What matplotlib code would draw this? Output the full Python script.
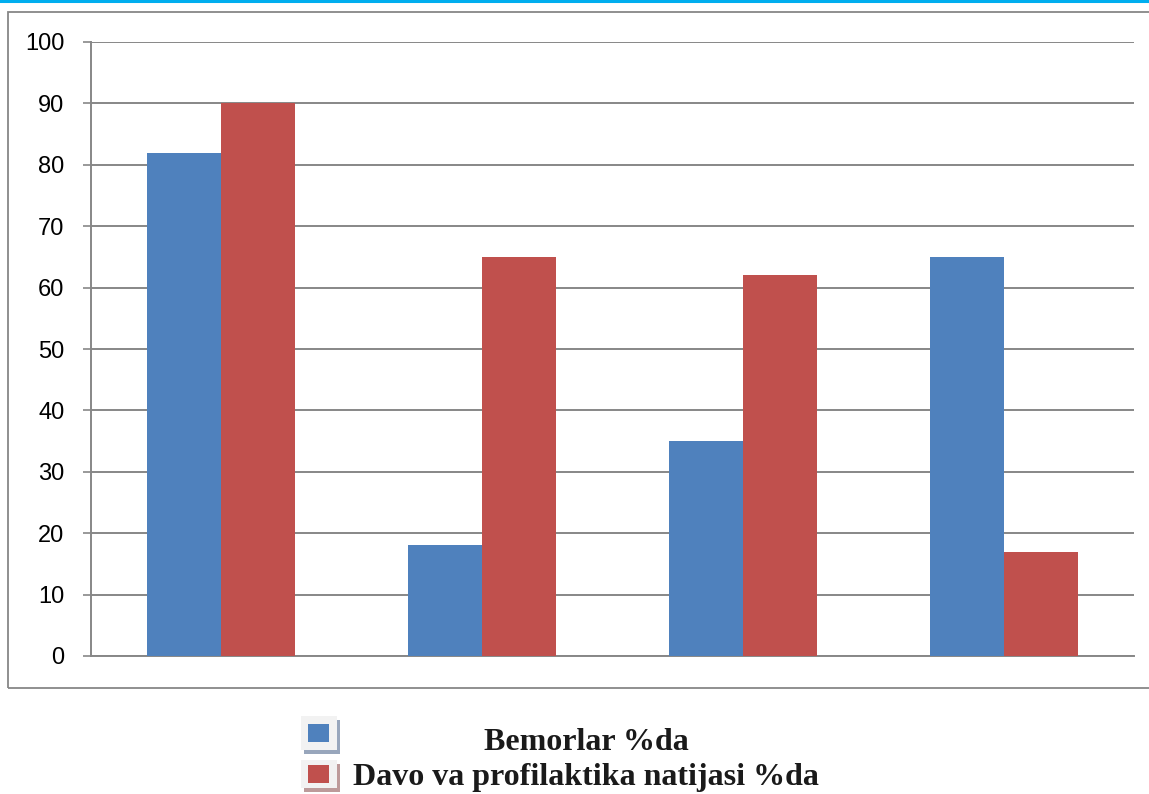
import matplotlib
matplotlib.use("Agg")
import matplotlib.pyplot as plt
from matplotlib.patches import Rectangle
from matplotlib.lines import Line2D
import numpy as np

# Data
categories = ["1", "2", "3", "4"]
bemorlar = [82, 18, 35, 65]
davo = [90, 65, 62, 17]
series_labels = ["Bemorlar %da", "Davo va profilaktika natijasi %da"]
yticks = [0, 10, 20, 30, 40, 50, 60, 70, 80, 90, 100]

BLUE = "#4F81BD"
RED = "#C0504D"
GRID = "#878787"

W, H = 1149, 794
fig = plt.figure(figsize=(W / 100, H / 100), dpi=100)
fig.patch.set_facecolor("white")


def fx(px):
    return px / W


def fy(py):
    return 1 - py / H


def px_rect(x0, y0, x1, y1, **kw):
    """Rectangle given in pixel coordinates (origin top-left)."""
    return Rectangle((fx(x0), fy(y1)), fx(x1) - fx(x0), fy(y0) - fy(y1),
                     transform=fig.transFigure, **kw)


# Cyan rule along the top edge
fig.add_artist(Line2D([0, 1], [fy(1), fy(1)], color="#00AEEF", lw=2.2,
                      transform=fig.transFigure))

# Chart border
fig.add_artist(px_rect(8, 12, 1160, 688, fill=False, edgecolor=GRID, lw=1.3))

ax = fig.add_axes([fx(91), fy(656), fx(1134) - fx(91), fy(42) - fy(656)])
x = np.arange(len(categories))
bw = 0.284
ax.bar(x - bw / 2, bemorlar, width=bw, color=BLUE, zorder=3)
ax.bar(x + bw / 2, davo, width=bw, color=RED, zorder=3)

ax.set_xlim(-0.5, len(categories) - 0.5)
ax.set_ylim(0, 100)
ax.set_yticks(yticks)
ax.set_yticklabels([str(t) for t in yticks], fontsize=17,
                   family="Liberation Sans")
ax.set_xticks([])
ax.yaxis.grid(True, color=GRID, lw=1.4, zorder=0)
ax.tick_params(axis="y", length=5.5, width=1.2, color=GRID, pad=13.5)
for s in ["top", "right"]:
    ax.spines[s].set_visible(False)
ax.spines["left"].set_color(GRID)
ax.spines["left"].set_linewidth(1.4)
ax.spines["bottom"].set_color(GRID)
ax.spines["bottom"].set_linewidth(1.4)

# Legend with framed, shadowed swatches
swatches = [(BLUE, "#98a6bc", 716, 750), (RED, "#bd9a9a", 760, 788)]
for col, shadow, top, bottom in swatches:
    fig.add_artist(px_rect(304, top + 4, 340, bottom + 4,
                           facecolor=shadow, edgecolor="none"))
    fig.add_artist(px_rect(301, top, 337, bottom,
                           facecolor="#f2f2f2", edgecolor="none"))
    mid = (top + bottom) / 2
    fig.add_artist(px_rect(308, mid - 9, 329, mid + 9,
                           facecolor=col, edgecolor="none"))

fig.text(fx(586), fy(743), series_labels[0], ha="center", va="center",
         fontsize=23, fontweight="bold", family="Liberation Serif",
         color="#1a1a1a")
fig.text(fx(586), fy(778), series_labels[1], ha="center", va="center",
         fontsize=23, fontweight="bold", family="Liberation Serif",
         color="#1a1a1a")

fig.savefig("out.png", dpi=100)
